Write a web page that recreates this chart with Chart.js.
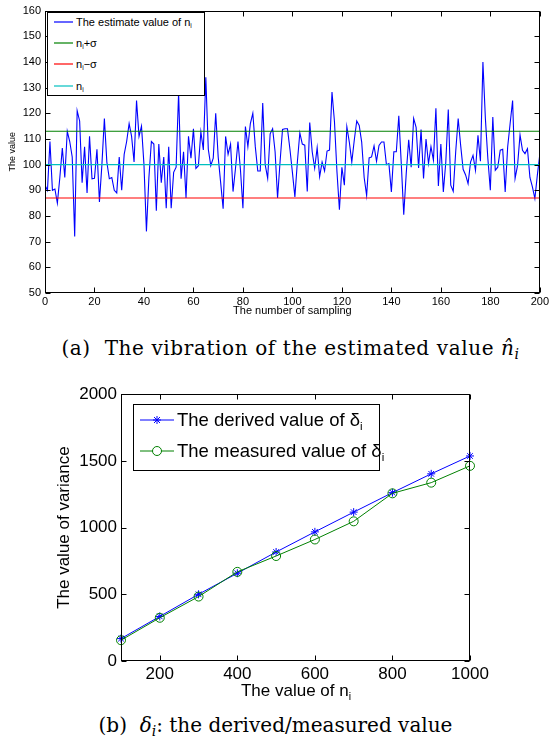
<!DOCTYPE html>
<html>
<head>
<meta charset="utf-8">
<script src="https://cdn.jsdelivr.net/npm/chart.js@4.4.0/dist/chart.umd.min.js"></script>
<style>
  body { margin: 0; background: #fff; font-family: "Liberation Sans", Arial, sans-serif; }
  #page { position: relative; width: 551px; height: 742px; overflow: hidden; }
  canvas { position: absolute; left: 0; }
  .legend { position: absolute; background: #fff; border: 1px solid #000; box-sizing: border-box; }
  .row { position: absolute; left: 0; display: flex; align-items: center; white-space: nowrap; color: #000; }
  .row svg { flex: none; }
  sub { font-size: 0.62em; vertical-align: -0.35em; line-height: 0; }
  .cap { position: absolute; left: 0; width: 551px; text-align: center; font-family: "DejaVu Serif", "Liberation Serif", serif; color: #000; line-height: 24px; white-space: nowrap; }
  .cap sub { font-size: 0.7em; vertical-align: -0.3em; }
  .xt { position: absolute; text-align: center; color: #000; }
</style>
</head>
<body>
<div id="page">
  <canvas id="vib" width="551" height="318" style="top:0"></canvas>
  <div class="legend" style="left:47px;top:12px;width:158px;height:84px;font-size:11px">
    <div class="row" style="top:2px;height:14px"><svg width="28" height="14"><line x1="6" y1="7" x2="25" y2="7" stroke="#0000ff" stroke-width="1.2"/></svg><span>The estimate value of n<sub>i</sub></span></div>
    <div class="row" style="top:23px;height:14px"><svg width="28" height="14"><line x1="6" y1="7" x2="25" y2="7" stroke="#008000" stroke-width="1.2"/></svg><span>n<sub>i</sub>+σ</span></div>
    <div class="row" style="top:44px;height:14px"><svg width="28" height="14"><line x1="6" y1="7" x2="25" y2="7" stroke="#ff0000" stroke-width="1.2"/></svg><span>n<sub>i</sub>−σ</span></div>
    <div class="row" style="top:66px;height:14px"><svg width="28" height="14"><line x1="6" y1="7" x2="25" y2="7" stroke="#00bfbf" stroke-width="1.2"/></svg><span>n<sub>i</sub></span></div>
  </div>
  <div class="cap" style="top:336px;left:15px;font-size:20px;letter-spacing:0.6px">(a)&nbsp; The vibration of the estimated value <i>n̂<sub>i</sub></i></div>

  <canvas id="var" width="551" height="325" style="top:380px"></canvas>
  <div class="legend" style="left:133px;top:404px;width:247px;height:67px;font-size:18.5px">
    <div class="row" style="top:4px;height:22px"><svg width="43" height="22"><line x1="6" y1="11" x2="40" y2="11" stroke="#0000ff"/><g stroke="#0000ff"><line x1="19" y1="11" x2="27" y2="11"/><line x1="23" y1="7" x2="23" y2="15"/><line x1="20" y1="8" x2="26" y2="14"/><line x1="20" y1="14" x2="26" y2="8"/></g></svg><span>The derived value of δ<sub>i</sub></span></div>
    <div class="row" style="top:35px;height:22px"><svg width="43" height="22"><line x1="6" y1="11" x2="40" y2="11" stroke="#008000"/><circle cx="23" cy="11" r="4.5" fill="#fff" stroke="#008000"/></svg><span>The measured value of δ<sub>i</sub></span></div>
  </div>
  <div class="xt" style="left:121px;width:350px;top:681px;font-size:17px">The value of n<sub>i</sub></div>
  <div class="cap" style="top:713px;font-size:20px">(b)&nbsp; <i>δ<sub>i</sub></i>: the derived/measured value</div>
</div>
<script>
// (a) estimated value over 200 samplings
const estimate = [
  92, 90, 109, 90, 90.5, 85, 95, 106.5, 95, 113,
  109, 103, 72, 121, 117, 93, 107, 89, 111, 94.5,
  94.7, 106, 85.5, 100, 118, 101, 94.5, 95, 90, 89,
  103, 90, 104, 109, 116, 111, 101, 125, 111, 115,
  100, 74, 95, 109, 108, 82, 108, 93, 103, 83,
  107, 83, 97, 99, 128, 94.5, 105, 87, 111, 102.5,
  114, 98.5, 99.6, 112.8, 105.7, 134, 106, 99.6, 102.5, 120,
  103, 93, 82.8, 111, 104, 108, 89.5, 98.6, 109, 98,
  83, 114.8, 107, 116, 120, 107, 97.5, 97.5, 124, 100,
  94.7, 112, 114, 105, 87, 101, 113.7, 114, 114, 106,
  97, 87.4, 101, 112.4, 108, 107.6, 89.5, 116.4, 105, 98.6,
  106.6, 95.3, 101, 97.5, 105.3, 105.7, 128.3, 116.7, 97.3, 82.4,
  99, 92, 114.8, 108.8, 101, 109.5, 117, 115.3, 108.8, 95,
  88, 102.6, 103, 107.3, 101.3, 107.5, 108.8, 108.8, 100, 100.4,
  89.4, 105, 105, 119, 100.4, 80.5, 96.5, 109.7, 99, 118,
  114.5, 98.7, 113.7, 94.6, 110, 100.4, 107, 101.7, 122, 91.7,
  108, 89.4, 101, 121.5, 92, 89.6, 105, 118, 107.5, 98.2,
  96, 92.6, 101, 103.6, 97.8, 111.4, 101.3, 140, 117.9, 102.3,
  90, 118.5, 97.8, 99, 105.6, 106, 89.4, 106.9, 116, 125,
  94.6, 99.7, 111.6, 105.6, 104.3, 106.2, 95, 91.3, 86.8, 95.9,
  104
];
const nTrue = 100;
const sigma = 13;
const samplingRange = [0, 200];

// (b) variance vs n_i
const nValues = [100, 200, 300, 400, 500, 600, 700, 800, 900, 1000];
const derived = [168, 334, 500, 658, 817, 968, 1116, 1262, 1403, 1537];
const measured = [156, 324, 483, 668, 787, 911, 1047, 1257, 1337, 1463];
const varXTicks = [200, 400, 600, 800, 1000];

Chart.defaults.color = '#000';
Chart.defaults.font.family = '"Liberation Sans", Arial, sans-serif';

// matlab-style box with inward ticks on all four sides
const frame = {
  id: 'frame',
  afterDraw(chart, args, opts) {
    const { ctx, chartArea: a, scales } = chart;
    const len = opts.tick || 5;
    const L = Math.round(a.left) + 0.5, R = Math.round(a.right) - 0.5;
    const T = Math.round(a.top) + 0.5, B = Math.round(a.bottom) - 0.5;
    ctx.save();
    ctx.strokeStyle = '#000';
    ctx.lineWidth = 1;
    ctx.beginPath();
    scales.x.ticks.forEach(t => {
      const px = Math.round(scales.x.getPixelForValue(t.value)) + 0.5;
      ctx.moveTo(px, B); ctx.lineTo(px, B - len);
      ctx.moveTo(px, T); ctx.lineTo(px, T + len);
    });
    scales.y.ticks.forEach(t => {
      const py = Math.round(scales.y.getPixelForValue(t.value)) + 0.5;
      ctx.moveTo(L, py); ctx.lineTo(L + len, py);
      ctx.moveTo(R, py); ctx.lineTo(R - len, py);
    });
    ctx.stroke();
    ctx.strokeRect(L, T, R - L, B - T);
    ctx.restore();
  }
};

const hline = v => samplingRange.map(x => ({ x, y: v }));

new Chart(document.getElementById('vib'), {
  type: 'line',
  data: {
    datasets: [
      { data: hline(nTrue), borderColor: '#00bfbf', borderWidth: 1.2, pointRadius: 0 },
      { data: hline(nTrue - sigma), borderColor: '#ff0000', borderWidth: 1.2, pointRadius: 0 },
      { data: hline(nTrue + sigma), borderColor: '#008000', borderWidth: 1.2, pointRadius: 0 },
      { data: estimate.map((y, x) => ({ x, y })), borderColor: '#0000ff', borderWidth: 1.1, pointRadius: 0, tension: 0 }
    ]
  },
  options: {
    responsive: false,
    animation: false,
    events: [],
    layout: { padding: { top: 9, right: 8, left: 0, bottom: 0 } },
    plugins: { legend: { display: false }, tooltip: { enabled: false }, frame: { tick: 5 } },
    scales: {
      x: {
        type: 'linear', min: 0, max: 200,
        ticks: { stepSize: 20, font: { size: 11 }, padding: 2, maxRotation: 0 },
        grid: { drawOnChartArea: false, drawTicks: false },
        border: { display: false },
        title: { display: true, text: 'The number of sampling', font: { size: 11 }, padding: 0 },
        afterFit: s => { s.height = 25; }
      },
      y: {
        min: 50, max: 160,
        ticks: { stepSize: 10, font: { size: 11 }, padding: 4 },
        grid: { drawOnChartArea: false, drawTicks: false },
        border: { display: false },
        title: { display: true, text: 'The value', font: { size: 9 }, padding: { top: 7, bottom: 0 } },
        afterFit: s => { s.width = 45; }
      }
    }
  },
  plugins: [frame]
});

new Chart(document.getElementById('var'), {
  type: 'line',
  data: {
    labels: nValues,
    datasets: [
      {
        label: 'The measured value of δi',
        data: nValues.map((x, i) => ({ x, y: measured[i] })),
        borderColor: '#008000', borderWidth: 1, tension: 0,
        pointStyle: 'circle', pointRadius: 4.5, pointBorderWidth: 1,
        pointBackgroundColor: 'rgba(0,0,0,0)', pointBorderColor: '#008000', clip: false
      },
      {
        label: 'The derived value of δi',
        data: nValues.map((x, i) => ({ x, y: derived[i] })),
        borderColor: '#0000ff', borderWidth: 1, tension: 0,
        pointStyle: 'star', pointRadius: 4, pointBorderWidth: 1,
        pointBorderColor: '#0000ff', clip: false
      }
    ]
  },
  options: {
    responsive: false,
    animation: false,
    events: [],
    layout: { padding: { top: 12, right: 81, left: 0, bottom: 0 } },
    plugins: { legend: { display: false }, tooltip: { enabled: false }, frame: { tick: 5 } },
    scales: {
      x: {
        type: 'linear', min: 100, max: 1000,
        afterBuildTicks: s => { s.ticks = varXTicks.map(v => ({ value: v })); },
        ticks: { font: { size: 17 }, padding: 3, maxRotation: 0, callback: v => String(v) },
        grid: { drawOnChartArea: false, drawTicks: false },
        border: { display: false },
        afterFit: s => { s.height = 44; }
      },
      y: {
        min: 0, max: 2000,
        ticks: { stepSize: 500, font: { size: 17 }, padding: 4, callback: v => String(v) },
        grid: { drawOnChartArea: false, drawTicks: false },
        border: { display: false },
        title: { display: true, text: 'The value of variance', font: { size: 17 }, padding: { top: 54, bottom: 0 } },
        afterFit: s => { s.width = 121; }
      }
    }
  },
  plugins: [frame]
});
</script>
</body>
</html>
